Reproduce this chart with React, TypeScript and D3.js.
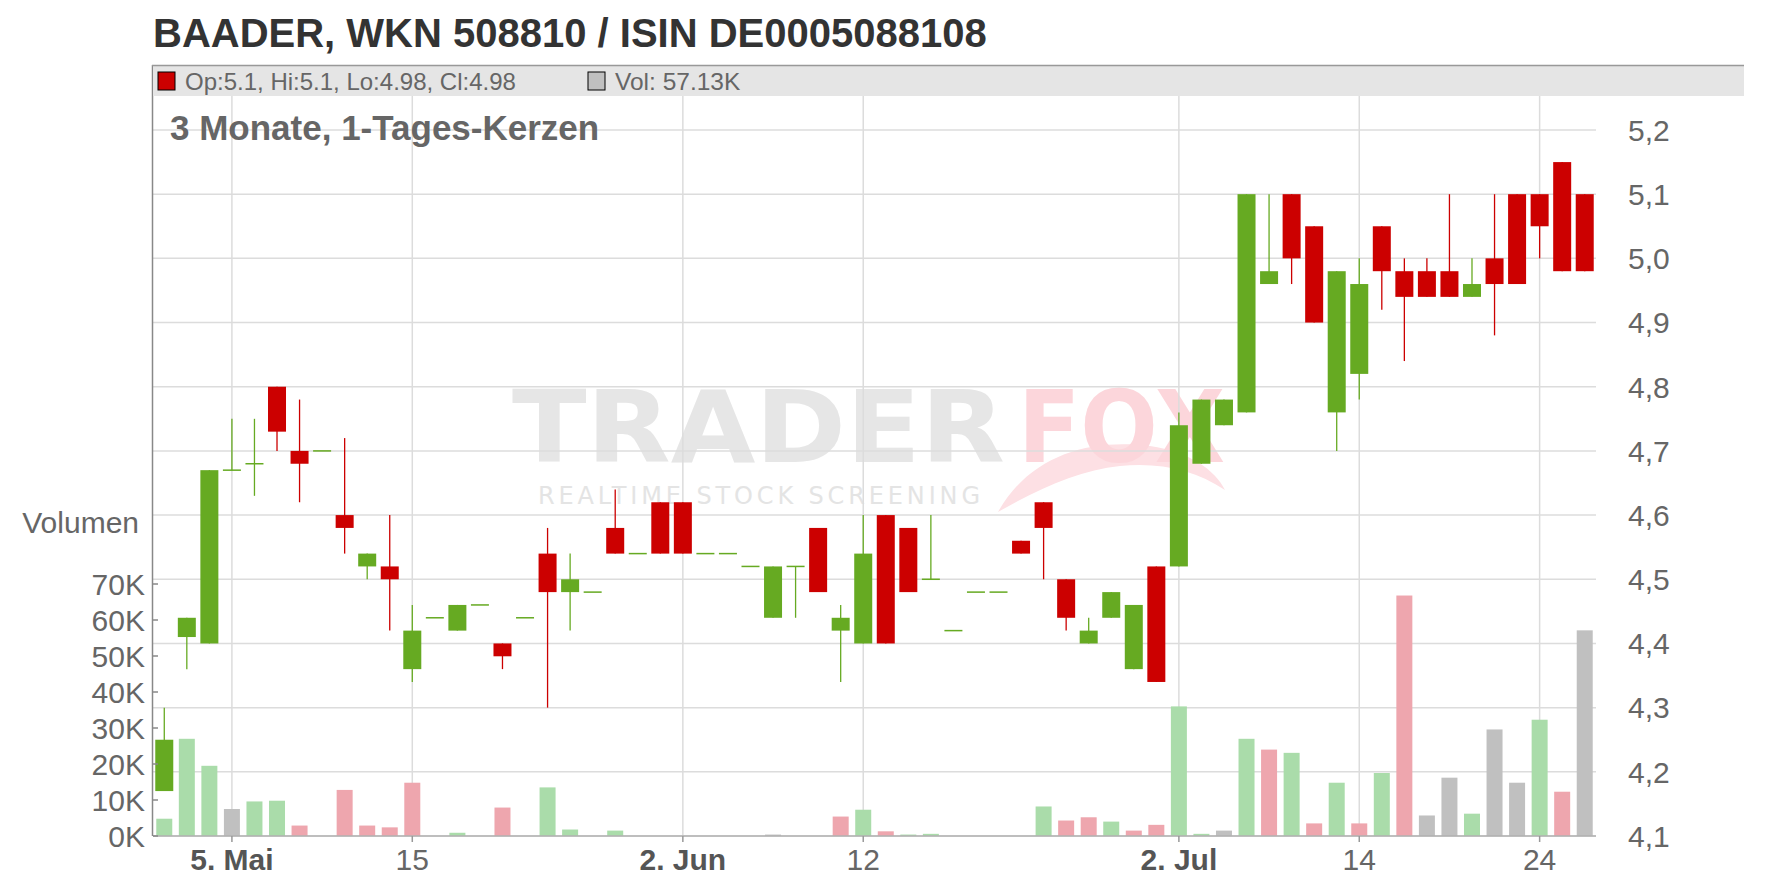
import { useEffect, useRef } from "react";
import * as d3 from "d3";

// trading days, 29 Apr - 28 Jul 2025
const dates = [
  "2025-04-29", "2025-04-30", "2025-05-02", "2025-05-05", "2025-05-06", "2025-05-07", "2025-05-08", "2025-05-09",
  "2025-05-12", "2025-05-13", "2025-05-14", "2025-05-15", "2025-05-16", "2025-05-19", "2025-05-20", "2025-05-21",
  "2025-05-22", "2025-05-23", "2025-05-26", "2025-05-27", "2025-05-28", "2025-05-29", "2025-05-30", "2025-06-02",
  "2025-06-03", "2025-06-04", "2025-06-05", "2025-06-06", "2025-06-09", "2025-06-10", "2025-06-11", "2025-06-12",
  "2025-06-13", "2025-06-16", "2025-06-17", "2025-06-18", "2025-06-19", "2025-06-20", "2025-06-23", "2025-06-24",
  "2025-06-25", "2025-06-26", "2025-06-27", "2025-06-30", "2025-07-01", "2025-07-02", "2025-07-03", "2025-07-04",
  "2025-07-07", "2025-07-08", "2025-07-09", "2025-07-10", "2025-07-11", "2025-07-14", "2025-07-15", "2025-07-16",
  "2025-07-17", "2025-07-18", "2025-07-21", "2025-07-22", "2025-07-23", "2025-07-24", "2025-07-25", "2025-07-28",
];

const open = [
  4.17, 4.41, 4.4, 4.67, 4.68, 4.8, 4.7, 4.7, 4.6, 4.52, 4.52, 4.36, 4.44, 4.42, 4.46, 4.4,
  4.44, 4.54, 4.48, 4.48, 4.58, 4.54, 4.62, 4.62, 4.54, 4.54, 4.52, 4.44, 4.52, 4.58, 4.42, 4.4,
  4.6, 4.58, 4.5, 4.42, 4.48, 4.48, 4.56, 4.62, 4.5, 4.4, 4.44, 4.36, 4.52, 4.52, 4.68, 4.74,
  4.76, 4.96, 5.1, 5.05, 4.76, 4.82, 5.05, 4.98, 4.98, 4.98, 4.94, 5.0, 5.1, 5.1, 5.15, 5.1,
];
const high = [
  4.3, 4.44, 4.67, 4.75, 4.75, 4.8, 4.78, 4.7, 4.72, 4.54, 4.6, 4.46, 4.44, 4.46, 4.46, 4.4,
  4.44, 4.58, 4.54, 4.48, 4.64, 4.54, 4.62, 4.62, 4.54, 4.54, 4.52, 4.52, 4.52, 4.58, 4.46, 4.6,
  4.6, 4.58, 4.6, 4.42, 4.48, 4.48, 4.56, 4.62, 4.5, 4.44, 4.48, 4.46, 4.52, 4.76, 4.78, 4.78,
  5.1, 5.1, 5.1, 5.05, 4.98, 5.0, 5.05, 5.0, 5.0, 5.1, 5.0, 5.1, 5.1, 5.1, 5.15, 5.1,
];
const low = [
  4.17, 4.36, 4.4, 4.67, 4.63, 4.7, 4.62, 4.7, 4.54, 4.5, 4.42, 4.34, 4.44, 4.42, 4.46, 4.36,
  4.44, 4.3, 4.42, 4.48, 4.54, 4.54, 4.54, 4.54, 4.54, 4.54, 4.52, 4.44, 4.44, 4.48, 4.34, 4.4,
  4.4, 4.48, 4.5, 4.42, 4.48, 4.48, 4.54, 4.5, 4.42, 4.4, 4.44, 4.36, 4.34, 4.52, 4.68, 4.74,
  4.76, 4.96, 4.96, 4.9, 4.7, 4.78, 4.92, 4.84, 4.94, 4.94, 4.94, 4.88, 4.96, 5.0, 4.98, 4.98,
];
const close = [
  4.25, 4.44, 4.67, 4.67, 4.68, 4.73, 4.68, 4.7, 4.58, 4.54, 4.5, 4.42, 4.44, 4.46, 4.46, 4.38,
  4.44, 4.48, 4.5, 4.48, 4.54, 4.54, 4.54, 4.54, 4.54, 4.54, 4.52, 4.52, 4.52, 4.48, 4.44, 4.54,
  4.4, 4.48, 4.5, 4.42, 4.48, 4.48, 4.54, 4.58, 4.44, 4.42, 4.48, 4.46, 4.34, 4.74, 4.78, 4.78,
  5.1, 4.98, 5.0, 4.9, 4.98, 4.96, 4.98, 4.94, 4.94, 4.94, 4.96, 4.96, 4.96, 5.05, 4.98, 4.98,
];
// volume in thousands
const volume = [
  4.8, 27.0, 19.5, 7.5, 9.6, 9.8, 2.9, 0, 12.8, 2.9, 2.4, 14.8, 0, 0.9, 0, 7.9,
  0, 13.5, 1.8, 0, 1.5, 0, 0, 0, 0, 0, 0, 0.4, 0, 0, 5.4, 7.3,
  1.3, 0.4, 0.6, 0, 0, 0, 0, 8.2, 4.3, 5.2, 4.0, 1.5, 3.1, 36.0, 0.6, 1.5,
  27.0, 24.0, 23.1, 3.5, 14.8, 3.5, 17.5, 66.8, 5.7, 16.2, 6.2, 29.6, 14.8, 32.3, 12.3, 57.13,
];

const priceTicks = [4.1, 4.2, 4.3, 4.4, 4.5, 4.6, 4.7, 4.8, 4.9, 5.0, 5.1, 5.2];
const volumeTicks = [0, 10, 20, 30, 40, 50, 60, 70];
const tickDates = ["2025-05-05", "2025-05-15", "2025-06-02", "2025-06-12", "2025-07-02", "2025-07-14", "2025-07-24"];
const tickLabels = ["5. Mai", "15", "2. Jun", "12", "2. Jul", "14", "24"];
const tickBold = [true, false, true, false, true, false, false];

const GREEN = "#66aa22";
const RED = "#cc0000";
const VOL_UP = "#aadcaa";
const VOL_DOWN = "#eea6ae";
const VOL_FLAT = "#c0c0c0";
const FONT = "'Liberation Sans', Arial, sans-serif";

export default function App() {
  const svgRef = useRef<SVGSVGElement>(null);

  useEffect(() => {
    if (!svgRef.current) return;
    document.body.style.margin = "0";
    const svg = d3.select(svgRef.current);
    svg.selectAll("*").remove();

    const width = 1776;
    const height = 888;
    const left = 153;
    const right = 1596;
    const top = 96;
    const bottom = 836;

    svg.attr("width", width).attr("height", height).style("display", "block");
    svg.append("rect").attr("width", width).attr("height", height).attr("fill", "#fff");

    const x = d3.scaleBand<string>().domain(dates).range([left, right]).padding(0);
    const cx = (d: string) => (x(d) as number) + x.bandwidth() / 2;
    const y = d3.scaleLinear().domain([4.1, 5.2]).range([bottom, 130]);
    const yv = d3.scaleLinear().domain([0, 70]).range([bottom, 584]);

    // watermark
    const wm = svg.append("g").attr("font-family", "'DejaVu Sans', sans-serif").attr("font-weight", "bold");
    wm.append("text")
      .attr("x", 512).attr("y", 462)
      .attr("font-size", 100)
      .attr("textLength", 493).attr("lengthAdjust", "spacingAndGlyphs")
      .attr("fill", "#e6e6e6")
      .text("TRADER");
    wm.append("path")
      .attr("d", "M998,512 C1030,455 1090,438 1150,446 C1190,452 1215,470 1225,490 C1195,470 1160,462 1120,466 C1080,470 1040,488 998,512 Z")
      .attr("fill", "#fde0e4");
    wm.append("text")
      .attr("x", 1018).attr("y", 462)
      .attr("font-size", 100)
      .attr("textLength", 207).attr("lengthAdjust", "spacingAndGlyphs")
      .attr("fill", "#fcd6db")
      .text("FOX");
    wm.append("text")
      .attr("x", 538).attr("y", 504)
      .attr("font-size", 24)
      .attr("font-weight", "normal")
      .attr("textLength", 442).attr("lengthAdjust", "spacing")
      .attr("fill", "#e4e4e4")
      .text("REALTIME STOCK SCREENING");

    // grid
    svg.append("g")
      .selectAll("line")
      .data(priceTicks)
      .join("line")
      .attr("x1", left).attr("x2", right)
      .attr("y1", (d) => y(d)).attr("y2", (d) => y(d))
      .attr("stroke", "#dcdcdc").attr("stroke-width", 1.5);
    svg.append("g")
      .selectAll("line")
      .data(tickDates)
      .join("line")
      .attr("x1", cx).attr("x2", cx)
      .attr("y1", top).attr("y2", bottom)
      .attr("stroke", "#dcdcdc").attr("stroke-width", 1.5);

    // volume bars, coloured by close vs. previous close
    const volColor = (i: number) => {
      if (i === 0 || close[i] > close[i - 1] + 1e-9) return VOL_UP;
      if (close[i] < close[i - 1] - 1e-9) return VOL_DOWN;
      return VOL_FLAT;
    };
    const vw = 16;
    svg.append("g")
      .selectAll("rect")
      .data(dates)
      .join("rect")
      .attr("x", (d) => cx(d) - vw / 2)
      .attr("width", vw)
      .attr("y", (_, i) => yv(volume[i]))
      .attr("height", (_, i) => bottom - yv(volume[i]))
      .attr("fill", (_, i) => volColor(i));

    // candles
    const bw = 18;
    const candles = svg.append("g").selectAll("g").data(dates).join("g");
    const col = (i: number) => (close[i] >= open[i] ? GREEN : RED);
    candles.append("line")
      .attr("x1", cx).attr("x2", cx)
      .attr("y1", (_, i) => y(high[i]))
      .attr("y2", (_, i) => y(low[i]))
      .attr("stroke", (_, i) => col(i))
      .attr("stroke-width", 1.3);
    candles.append("rect")
      .attr("x", (d) => cx(d) - bw / 2)
      .attr("width", bw)
      .attr("y", (_, i) => y(Math.max(open[i], close[i])) - (open[i] === close[i] ? 0.75 : 0))
      .attr("height", (_, i) => Math.max(1.5, Math.abs(y(open[i]) - y(close[i]))))
      .attr("fill", (_, i) => col(i));

    // axes lines
    svg.append("line")
      .attr("x1", left).attr("x2", right).attr("y1", bottom).attr("y2", bottom)
      .attr("stroke", "#b0b0b0").attr("stroke-width", 1.5);
    svg.append("g")
      .selectAll("line")
      .data(tickDates)
      .join("line")
      .attr("x1", cx).attr("x2", cx)
      .attr("y1", bottom).attr("y2", bottom + 6)
      .attr("stroke", "#999").attr("stroke-width", 1.5);
    svg.append("line")
      .attr("x1", left - 0.5).attr("x2", left - 0.5).attr("y1", 65).attr("y2", bottom)
      .attr("stroke", "#888").attr("stroke-width", 1.5);

    // volume axis
    svg.append("g")
      .selectAll("line")
      .data(volumeTicks)
      .join("line")
      .attr("x1", left).attr("x2", left + 5)
      .attr("y1", (d) => yv(d)).attr("y2", (d) => yv(d))
      .attr("stroke", "#888").attr("stroke-width", 1.5);
    svg.append("g")
      .selectAll("text")
      .data(volumeTicks)
      .join("text")
      .attr("x", 145)
      .attr("y", (d) => yv(d))
      .attr("dy", "0.36em")
      .attr("text-anchor", "end")
      .attr("font-family", FONT).attr("font-size", 30)
      .attr("fill", "#666")
      .text((d) => `${d}K`);
    svg.append("text")
      .attr("x", 139).attr("y", 522).attr("dy", "0.36em")
      .attr("text-anchor", "end")
      .attr("font-family", FONT).attr("font-size", 30)
      .attr("fill", "#666")
      .text("Volumen");

    // price axis
    svg.append("g")
      .selectAll("text")
      .data(priceTicks)
      .join("text")
      .attr("x", 1628)
      .attr("y", (d) => y(d))
      .attr("dy", "0.36em")
      .attr("font-family", FONT).attr("font-size", 30)
      .attr("fill", "#666")
      .text((d) => d3.format(".1f")(d).replace(".", ","));

    // date axis
    svg.append("g")
      .selectAll("text")
      .data(tickDates)
      .join("text")
      .attr("x", cx)
      .attr("y", 870)
      .attr("text-anchor", "middle")
      .attr("font-family", FONT).attr("font-size", 30)
      .attr("font-weight", (_, i) => (tickBold[i] ? "bold" : "normal"))
      .attr("fill", (_, i) => (tickBold[i] ? "#555" : "#666"))
      .text((_, i) => tickLabels[i]);

    // header bar
    svg.append("rect")
      .attr("x", left).attr("y", 65.5).attr("width", 1744 - left).attr("height", 30.5)
      .attr("fill", "#e5e5e5");
    svg.append("line")
      .attr("x1", left - 1).attr("x2", 1744).attr("y1", 65.5).attr("y2", 65.5)
      .attr("stroke", "#999").attr("stroke-width", 1.5);
    svg.append("rect")
      .attr("x", 158).attr("y", 72).attr("width", 17).attr("height", 18)
      .attr("fill", RED).attr("stroke", "#000").attr("stroke-width", 1);
    const last = dates.length - 1;
    svg.append("text")
      .attr("x", 185).attr("y", 90)
      .attr("font-family", FONT).attr("font-size", 24)
      .attr("fill", "#666")
      .text(`Op:${open[last]}, Hi:${high[last]}, Lo:${low[last]}, Cl:${close[last]}`);
    svg.append("rect")
      .attr("x", 588).attr("y", 72).attr("width", 17).attr("height", 18)
      .attr("fill", VOL_FLAT).attr("stroke", "#000").attr("stroke-width", 1);
    svg.append("text")
      .attr("x", 615).attr("y", 90)
      .attr("font-family", FONT).attr("font-size", 24.5)
      .attr("fill", "#666")
      .text(`Vol: ${volume[last].toFixed(2)}K`);

    // titles
    svg.append("text")
      .attr("x", 153).attr("y", 47)
      .attr("font-family", FONT).attr("font-size", 40).attr("font-weight", "bold")
      .attr("fill", "#333")
      .text("BAADER, WKN 508810 / ISIN DE0005088108");
    svg.append("text")
      .attr("x", 170).attr("y", 140)
      .attr("font-family", FONT).attr("font-size", 35).attr("font-weight", "bold")
      .attr("fill", "#666")
      .text("3 Monate, 1-Tages-Kerzen");
  }, []);

  return <svg ref={svgRef}></svg>;
}
